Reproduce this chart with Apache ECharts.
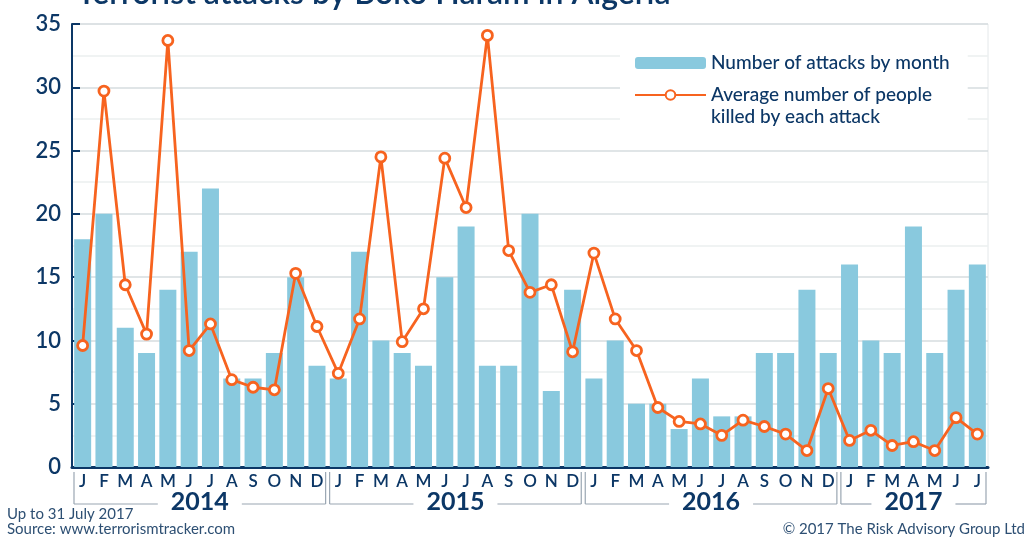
<!DOCTYPE html>
<html>
<head>
<meta charset="utf-8">
<script src="https://cdn.jsdelivr.net/npm/echarts@6/dist/echarts.min.js"></script>
<style>
html,body{margin:0;padding:0;background:#fff;}
#c{width:1028px;height:539px;}
</style>
</head>
<body>
<div id="c"></div>
<script>
const titleText = 'Terrorist attacks by Boko Haram in Algeria';
const years = ['2014', '2015', '2016', '2017'];
const monthsPerYear = [12, 12, 12, 7];
const monthLetters = ['J','F','M','A','M','J','J','A','S','O','N','D'];
const attacks = [
  18, 20, 11, 9, 14, 17, 22, 7, 7, 9, 15, 8,
  7, 17, 10, 9, 8, 15, 19, 8, 8, 20, 6, 14,
  7, 10, 5, 5, 3, 7, 4, 4, 9, 9, 14, 9,
  16, 10, 9, 19, 9, 14, 16
];
const avgKilled = [
  9.6, 29.7, 14.4, 10.5, 33.7, 9.2, 11.3, 6.9, 6.3, 6.1, 15.3, 11.1,
  7.4, 11.7, 24.5, 9.9, 12.5, 24.4, 20.5, 34.1, 17.1, 13.8, 14.4, 9.1,
  16.9, 11.7, 9.2, 4.7, 3.6, 3.4, 2.5, 3.7, 3.2, 2.6, 1.3, 6.2,
  2.1, 2.9, 1.7, 2.0, 1.3, 3.9, 2.6
];
const yTicks = [0, 5, 10, 15, 20, 25, 30, 35];
const seriesNames = ['Number of attacks by month', 'Average number of people\nkilled by each attack'];
const noteLines = ['Up to 31 July 2017', 'Source: www.terrorismtracker.com'];
const copyright = '\u00A9 2017 The Risk Advisory Group Ltd';

const categories = [];
years.forEach((y, i) => { for (let m = 0; m < monthsPerYear[i]; m++) categories.push(monthLetters[m]); });

const NAVY = '#0c3766';
const FONT = 'Lato, "Open Sans", sans-serif';
const chart = echarts.init(document.getElementById('c'), null, {renderer: 'canvas'});

const option = {
  animation: false,
  backgroundColor: '#fff',
  textStyle: {fontFamily: FONT},
  title: {
    text: titleText,
    left: 72, top: -27,
    textStyle: {color: NAVY, fontSize: 32, fontWeight: 600, fontFamily: FONT}
  },
  grid: {left: 72, right: 40, top: 24, bottom: 72, show: true, borderColor: '#e4e8ea', borderWidth: 1, backgroundColor: 'transparent'},
  legend: {
    left: 620, top: 40,
    orient: 'vertical',
    align: 'left',
    backgroundColor: '#fff',
    padding: [12, 18, 10, 14],
    itemGap: -12,
    itemWidth: 71, itemHeight: 12,
    formatter: function (name) { return name === seriesNames[1] ? ' \n' + name : name; },
    textStyle: {color: NAVY, fontSize: 19, fontWeight: 500, fontFamily: FONT, lineHeight: 22},
    data: [
      {name: seriesNames[0]},
      {name: seriesNames[1]}
    ]
  },
  xAxis: {
    type: 'category',
    data: categories,
    boundaryGap: true,
    axisLine: {lineStyle: {color: NAVY, width: 3}},
    axisTick: {show: false},
    axisLabel: {color: NAVY, fontSize: 17, fontWeight: 600, margin: 6, interval: 0, fontFamily: FONT},
    splitLine: {show: false}
  },
  yAxis: {
    type: 'value',
    min: yTicks[0], max: yTicks[yTicks.length - 1], interval: yTicks[1] - yTicks[0],
    axisLine: {show: true, lineStyle: {color: NAVY, width: 2}},
    axisTick: {show: true, inside: true, length: 8, lineStyle: {color: NAVY, width: 2}},
    axisLabel: {color: NAVY, fontSize: 22, fontWeight: 600, margin: 11, fontFamily: FONT},
    splitLine: {show: true, lineStyle: {color: '#d6dcdf', width: 1.5}},
    minorTick: {show: false, splitNumber: 2},
    minorSplitLine: {show: true, lineStyle: {color: '#eceff0', width: 1.5}}
  },
  series: [
    {
      name: seriesNames[0],
      type: 'bar',
      data: attacks,
      barWidth: 17,
      itemStyle: {color: '#89c9de'},
      z: 2
    },
    {
      name: seriesNames[1],
      type: 'line',
      data: avgKilled,
      symbol: 'circle',
      symbolSize: 10,
      showAllSymbol: true,
      lineStyle: {color: '#f7631f', width: 2.8},
      itemStyle: {color: '#fff', borderColor: '#f7631f', borderWidth: 2.8},
      z: 3
    }
  ]
};
chart.setOption(option);

// year brackets from the category scale
const graphics = [];
let start = 0;
const baseY = chart.convertToPixel({yAxisIndex: 0}, 0);
years.forEach((y, i) => {
  const n = monthsPerYear[i];
  const x0 = chart.convertToPixel({xAxisIndex: 0}, start);
  const x1 = chart.convertToPixel({xAxisIndex: 0}, start + n - 1);
  const half = (chart.convertToPixel({xAxisIndex: 0}, 1) - chart.convertToPixel({xAxisIndex: 0}, 0)) / 2;
  const L = x0 - half + 2, R = x1 + half - 2;
  const mid = (L + R) / 2;
  const top = baseY + 5, bot = baseY + 37;
  const gapHalf = 42;
  const ls = {stroke: '#9aa6b2', lineWidth: 1.2};
  graphics.push({type: 'line', shape: {x1: L, y1: top, x2: L, y2: bot}, style: ls, silent: true});
  graphics.push({type: 'line', shape: {x1: R, y1: top, x2: R, y2: bot}, style: ls, silent: true});
  graphics.push({type: 'line', shape: {x1: L, y1: bot, x2: mid - gapHalf, y2: bot}, style: ls, silent: true});
  graphics.push({type: 'line', shape: {x1: mid + gapHalf, y1: bot, x2: R, y2: bot}, style: ls, silent: true});
  graphics.push({type: 'text', x: mid, y: bot - 2, style: {text: y, fill: NAVY, font: '700 25px ' + FONT, textAlign: 'center', textVerticalAlign: 'middle'}, silent: true});
  start += n;
});
graphics.push({type: 'text', left: 7, top: 507, style: {text: noteLines[0], fill: '#2d4f73', font: '15px ' + FONT}});
graphics.push({type: 'text', left: 7, top: 522, style: {text: noteLines[1], fill: '#2d4f73', font: '15px ' + FONT}});
graphics.push({type: 'text', right: 3, top: 522, style: {text: copyright, fill: '#2d4f73', font: '15px ' + FONT}});
chart.setOption({graphic: graphics});
</script>
</body>
</html>
